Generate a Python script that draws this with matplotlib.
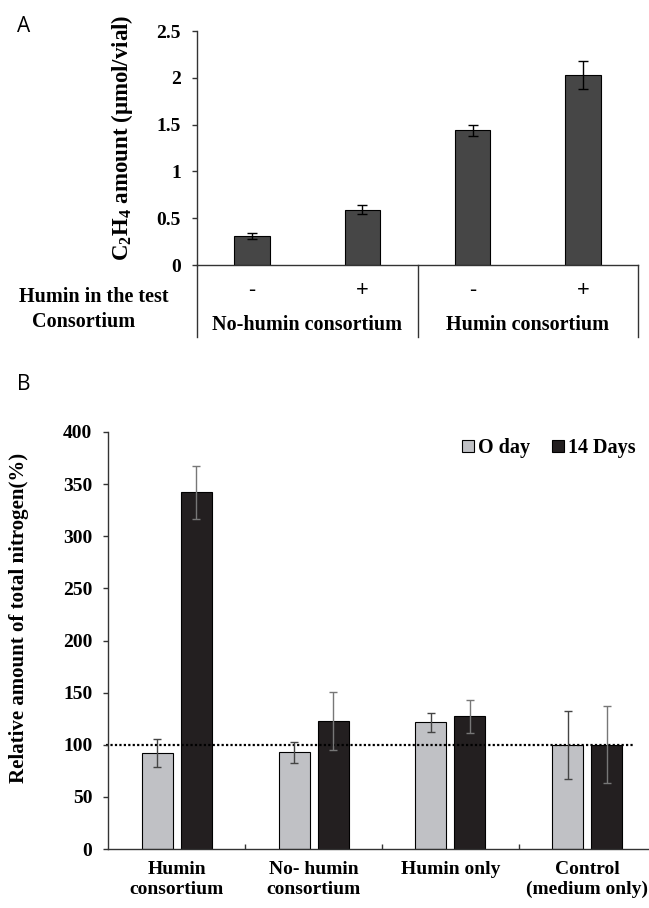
import matplotlib
matplotlib.use('Agg')
import matplotlib.pyplot as plt
import numpy as np

# panel A: C2H4 amount
a_humin = ['-', '+', '-', '+']
a_groups = ['No-humin consortium', 'Humin consortium']
a_values = [0.31, 0.59, 1.44, 2.03]
a_errors = [0.03, 0.05, 0.06, 0.15]
a_yticks = [0, 0.5, 1, 1.5, 2, 2.5]
a_yticklabels = ['0', '0.5', '1', '1.5', '2', '2.5']

# panel B: relative total nitrogen
b_categories = ['Humin\nconsortium', 'No- humin\nconsortium', 'Humin only', 'Control\n(medium only)']
b_series = ['O day', '14 Days']
b_day0 = [92, 92.7, 121.4, 100]
b_day0_err = [13.6, 10, 9.3, 32.7]
b_day14 = [342, 123, 127.2, 100]
b_day14_err = [25.5, 28, 15.7, 37]
b_yticks = [0, 50, 100, 150, 200, 250, 300, 350, 400]

plt.rcParams['font.family'] = 'Liberation Serif'
plt.rcParams['font.weight'] = 'bold'
plt.rcParams['mathtext.fontset'] = 'custom'
plt.rcParams['mathtext.rm'] = 'Liberation Serif:bold'
plt.rcParams['mathtext.bf'] = 'Liberation Serif:bold'
plt.rcParams['axes.linewidth'] = 1.0
plt.rcParams['axes.edgecolor'] = '#333333'

W, H = 649, 908
fig = plt.figure(figsize=(W / 100, H / 100), dpi=100)

LINE = '#333333'

# ---------- panel A ----------
axA = fig.add_axes([197 / W, 1 - 265 / H, 441 / W, 234 / H])
x = np.arange(len(a_values))
axA.bar(x, a_values, width=0.32, color='#464646', edgecolor='black', linewidth=0.8,
        yerr=a_errors, capsize=3.5,
        error_kw=dict(elinewidth=1, capthick=1, ecolor='black'))
axA.set_xlim(-0.5, 3.5)
axA.set_ylim(0, 2.5)
axA.set_yticks(a_yticks)
axA.set_yticklabels(a_yticklabels, fontsize=14)
axA.set_xticks([])
axA.tick_params(axis='y', direction='out', length=3.6, width=1, color=LINE, pad=8)
axA.spines['top'].set_visible(False)
axA.spines['right'].set_visible(False)

# table under the x axis
for xf in [0, 0.5, 1]:
    axA.plot([xf, xf], [0, -0.308], transform=axA.transAxes, clip_on=False,
             color=LINE, lw=1)
for i, s in enumerate(a_humin):
    axA.text(i, -0.107, s, transform=axA.get_xaxis_transform(), ha='center', va='center',
             family='Open Sans', fontweight='normal', fontsize=16)
for j, g in enumerate(a_groups):
    axA.text(0.25 + 0.5 * j, -0.256, g, transform=axA.transAxes, ha='center', va='center',
             fontsize=14.5)

fig.text(93.5 / W, 1 - 296.7 / H, 'Humin in the test', ha='center', va='center', fontsize=14.5)
fig.text(84 / W, 1 - 321.7 / H, 'Consortium', ha='center', va='center', fontsize=14.5)
fig.text(122 / W, 1 - 138 / H, r'C$_{2}$H$_{4}$ amount ($\mathrm{\mu}$mol/vial)',
         rotation=90, ha='center', va='center', fontsize=16.5)
fig.text(17 / W, 1 - 26 / H, 'A', family='Open Sans', fontweight='normal', fontsize=15,
         va='center', ha='left')

# ---------- panel B ----------
axB = fig.add_axes([108.4 / W, 1 - 849 / H, 547.2 / W, 417 / H])
w, off = 0.227, 0.1425
bars0 = axB.bar(x - off, b_day0, w, color='#c0c1c5', edgecolor='black', linewidth=0.8,
                yerr=b_day0_err, capsize=3,
                error_kw=dict(elinewidth=1, capthick=1, ecolor='#444444'))
bars14 = axB.bar(x + off, b_day14, w, color='#231f20', edgecolor='black', linewidth=0.8,
                 yerr=b_day14_err, capsize=3,
                 error_kw=dict(elinewidth=1, capthick=1, ecolor='#777777'))
axB.axhline(100, xmin=-0.005, xmax=0.959, color='black', ls=(0, (1, 1)), lw=1.6,
            clip_on=False, zorder=1.5)
axB.set_xlim(-0.5, 3.5)
axB.set_ylim(0, 400)
axB.set_yticks(b_yticks)
axB.set_yticklabels([str(v) for v in b_yticks], fontsize=14)
axB.tick_params(axis='y', direction='out', length=3.6, width=1, color=LINE, pad=8)
axB.set_xticks([0.5, 1.5, 2.5])
axB.set_xticklabels([])
axB.tick_params(axis='x', which='major', direction='in', length=3.6, width=1, color=LINE)
axB.set_xticks(x, minor=True)
axB.set_xticklabels(b_categories, minor=True, fontsize=14)
axB.tick_params(axis='x', which='minor', length=0, pad=9)
for lbl in axB.get_xticklabels(minor=True):
    lbl.set_linespacing(1.2)
axB.spines['top'].set_visible(False)
axB.spines['right'].set_visible(False)

axB.legend([bars0, bars14], b_series, loc='center right', bbox_to_anchor=(636 / W, 1 - 448 / H),
           bbox_transform=fig.transFigure, ncol=2, frameon=False, fontsize=14.5,
           handlelength=0.6, handleheight=0.6, handletextpad=0.2, columnspacing=1.1,
           borderpad=0, borderaxespad=0)

fig.text(19.5 / W, 1 - 618 / H, 'Relative amount of total nitrogen(%)', rotation=90,
         ha='center', va='center', fontsize=15)
fig.text(17 / W, 1 - 384 / H, 'B', family='Open Sans', fontweight='normal', fontsize=15,
         va='center', ha='left')

fig.savefig('out.png', dpi=100)
